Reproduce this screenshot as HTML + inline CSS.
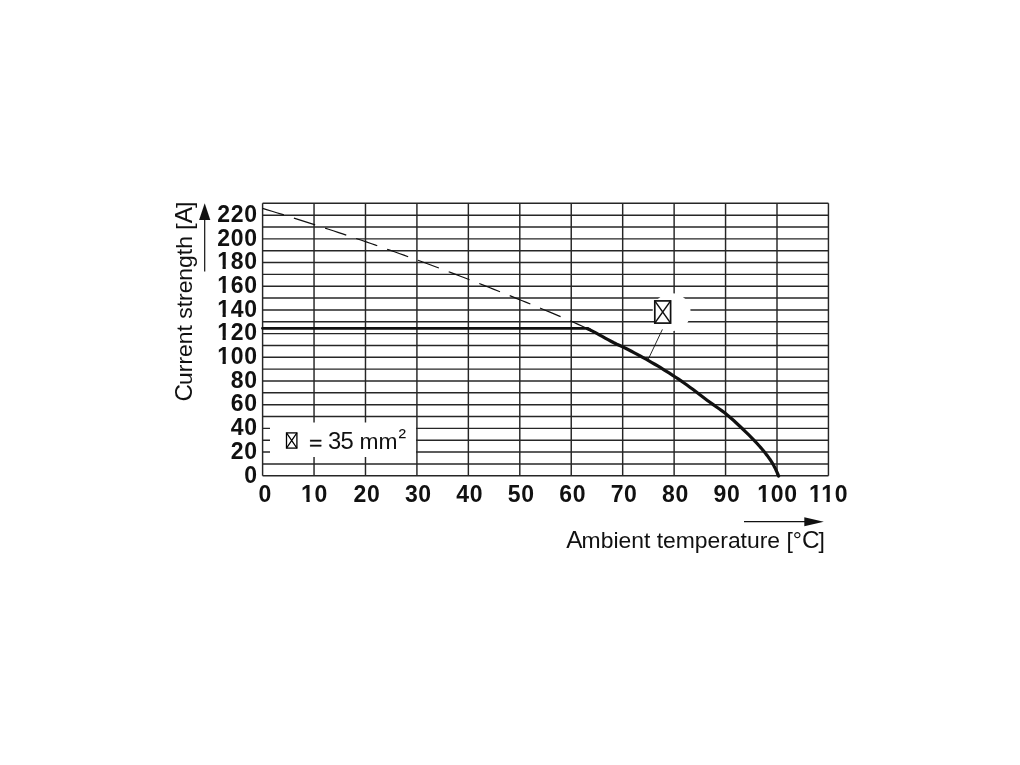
<!DOCTYPE html>
<html><head><meta charset="utf-8"><style>
html,body{margin:0;padding:0;background:#fff;}
body{width:1020px;height:765px;overflow:hidden;position:relative;}
svg{position:absolute;left:0;top:0;will-change:transform;}
text{font-family:"Liberation Sans",Arial,Helvetica,sans-serif;fill:#111;}
</style></head><body>
<svg width="1020" height="765" viewBox="0 0 1020 765">
<defs><mask id="m1" maskUnits="userSpaceOnUse" x="0" y="0" width="1020" height="765"><rect width="1020" height="765" fill="#fff"/><g fill="#000"><rect x="217.66" y="360.6" width="4.87" height="4.3"/><rect x="225.79" y="360.6" width="4.63" height="4.3"/><rect x="217.66" y="336.6" width="4.87" height="4.3"/><rect x="225.79" y="336.6" width="4.63" height="4.3"/><rect x="217.66" y="313.6" width="4.87" height="4.3"/><rect x="225.79" y="313.6" width="4.63" height="4.3"/><rect x="217.66" y="289.6" width="4.87" height="4.3"/><rect x="225.79" y="289.6" width="4.63" height="4.3"/><rect x="217.66" y="265.6" width="4.87" height="4.3"/><rect x="225.79" y="265.6" width="4.63" height="4.3"/><rect x="301.55" y="498.6" width="4.87" height="4.3"/><rect x="309.67" y="498.6" width="4.63" height="4.3"/><rect x="757.76" y="498.6" width="4.87" height="4.3"/><rect x="765.88" y="498.6" width="4.63" height="4.3"/><rect x="809.43" y="498.6" width="4.87" height="4.3"/><rect x="817.55" y="498.6" width="4.63" height="4.3"/><rect x="821.65" y="498.6" width="4.87" height="4.3"/><rect x="829.77" y="498.6" width="4.63" height="4.3"/></g></mask></defs>
<rect width="1020" height="765" fill="#fff"/>
<g stroke="#262626" stroke-width="1.45" fill="none">
<line x1="262.6" y1="203.31" x2="262.6" y2="475.75"/>
<line x1="314.04" y1="203.31" x2="314.04" y2="475.75"/>
<line x1="365.48" y1="203.31" x2="365.48" y2="475.75"/>
<line x1="416.92" y1="203.31" x2="416.92" y2="475.75"/>
<line x1="468.36" y1="203.31" x2="468.36" y2="475.75"/>
<line x1="519.8" y1="203.31" x2="519.8" y2="475.75"/>
<line x1="571.24" y1="203.31" x2="571.24" y2="475.75"/>
<line x1="622.68" y1="203.31" x2="622.68" y2="475.75"/>
<line x1="674.12" y1="203.31" x2="674.12" y2="475.75"/>
<line x1="725.56" y1="203.31" x2="725.56" y2="475.75"/>
<line x1="777" y1="203.31" x2="777" y2="475.75"/>
<line x1="828.44" y1="203.31" x2="828.44" y2="475.75"/>
<line x1="262.6" y1="475.75" x2="828.44" y2="475.75"/>
<line x1="262.6" y1="463.9" x2="828.44" y2="463.9"/>
<line x1="262.6" y1="452.06" x2="828.44" y2="452.06"/>
<line x1="262.6" y1="440.21" x2="828.44" y2="440.21"/>
<line x1="262.6" y1="428.37" x2="828.44" y2="428.37"/>
<line x1="262.6" y1="416.52" x2="828.44" y2="416.52"/>
<line x1="262.6" y1="404.68" x2="828.44" y2="404.68"/>
<line x1="262.6" y1="392.83" x2="828.44" y2="392.83"/>
<line x1="262.6" y1="380.99" x2="828.44" y2="380.99"/>
<line x1="262.6" y1="369.14" x2="828.44" y2="369.14"/>
<line x1="262.6" y1="357.3" x2="828.44" y2="357.3"/>
<line x1="262.6" y1="345.45" x2="828.44" y2="345.45"/>
<line x1="262.6" y1="333.61" x2="828.44" y2="333.61"/>
<line x1="262.6" y1="321.76" x2="828.44" y2="321.76"/>
<line x1="262.6" y1="309.92" x2="828.44" y2="309.92"/>
<line x1="262.6" y1="298.07" x2="828.44" y2="298.07"/>
<line x1="262.6" y1="286.23" x2="828.44" y2="286.23"/>
<line x1="262.6" y1="274.38" x2="828.44" y2="274.38"/>
<line x1="262.6" y1="262.54" x2="828.44" y2="262.54"/>
<line x1="262.6" y1="250.69" x2="828.44" y2="250.69"/>
<line x1="262.6" y1="238.85" x2="828.44" y2="238.85"/>
<line x1="262.6" y1="227" x2="828.44" y2="227"/>
<line x1="262.6" y1="215.16" x2="828.44" y2="215.16"/>
<line x1="262.6" y1="203.31" x2="828.44" y2="203.31"/>
</g>
<rect x="270" y="422.5" width="146" height="34.5" fill="#fff"/>
<circle cx="671.6" cy="312.3" r="19" fill="#fff"/>
<path d="M262.6,208.37 L267.31,209.81 L272.02,211.26 L276.73,212.71 L281.44,214.17 L286.15,215.64 L290.86,217.12 L295.57,218.61 L300.28,220.1 L304.99,221.61 L309.7,223.12 L314.41,224.64 L319.12,226.17 L323.83,227.7 L328.54,229.25 L333.25,230.8 L337.96,232.36 L342.67,233.93 L347.38,235.51 L352.09,237.1 L356.8,238.7 L361.51,240.3 L366.22,241.92 L370.93,243.54 L375.64,245.17 L380.35,246.81 L385.06,248.47 L389.77,250.13 L394.48,251.8 L399.19,253.47 L403.9,255.16 L408.61,256.86 L413.32,258.57 L418.03,260.29 L422.74,262.01 L427.46,263.75 L432.17,265.5 L436.88,267.26 L441.59,269.02 L446.3,270.8 L451.01,272.59 L455.72,274.38 L460.43,276.19 L465.14,278.01 L469.85,279.83 L474.56,281.67 L479.27,283.51 L483.98,285.37 L488.69,287.23 L493.4,289.1 L498.11,290.98 L502.82,292.87 L507.53,294.76 L512.24,296.66 L516.95,298.57 L521.66,300.49 L526.37,302.42 L531.08,304.35 L535.79,306.29 L540.5,308.23 L545.21,310.18 L549.92,312.15 L554.63,314.13 L559.34,316.12 L564.05,318.14 L568.76,320.19 L573.47,322.27 L578.18,324.38 L582.89,326.53 L587.6,328.75" fill="none" stroke="#111" stroke-width="1.2" stroke-dasharray="22.3 10.47"/>
<path d="M262.4,328.35 L587.6,328.35 L590.6,330.21" fill="none" stroke="#111" stroke-width="2.7" stroke-linejoin="round" stroke-linecap="round"/>
<path d="M587.6,328.75 L590.52,330.17 L593.44,331.65 L596.37,333.19 L599.29,334.79 L602.21,336.42 L605.13,338.07 L608.05,339.69 L610.98,341.27 L613.9,342.78 L616.82,344.19 L619.74,345.51 L622.66,346.87 L625.59,348.29 L628.51,349.76 L631.43,351.28 L634.35,352.82 L637.27,354.4 L640.2,355.98 L643.12,357.59 L646.04,359.22 L648.96,360.87 L651.88,362.55 L654.81,364.25 L657.73,365.97 L660.65,367.73 L663.57,369.52 L666.49,371.33 L669.42,373.18 L672.34,375.07 L675.26,376.99 L678.18,378.94 L681.11,380.94 L684.03,382.98 L686.95,385.05 L689.87,387.17 L692.79,389.34 L695.72,391.54 L698.64,393.77 L701.56,396 L704.48,398.22 L707.4,400.42 L710.33,402.57 L713.25,404.67 L716.17,406.72 L719.09,408.77 L722.01,410.87 L724.94,413.07 L727.86,415.42 L730.78,417.92 L733.7,420.52 L736.62,423.22 L739.55,425.98 L742.47,428.77 L745.39,431.58 L748.31,434.43 L751.23,437.35 L754.16,440.36 L757.08,443.48 L760,446.76 L760.5,447.33 L761.12,448.06 L761.75,448.79 L762.37,449.53 L763,450.29 L763.62,451.05 L764.24,451.82 L764.87,452.59 L765.49,453.38 L766.12,454.18 L766.74,454.99 L767.37,455.81 L767.99,456.64 L768.61,457.49 L769.24,458.37 L769.86,459.26 L770.49,460.18 L771.11,461.14 L771.73,462.12 L772.36,463.14 L772.98,464.2 L773.61,465.31 L774.23,466.46 L774.86,467.65 L775.48,468.9 L776.1,470.21 L776.73,471.57 L777.35,472.99 L777.98,474.48 L778.6,476.04" fill="none" stroke="#111" stroke-width="3.2" stroke-linejoin="round" stroke-linecap="round"/>
<g font-weight="bold" font-size="23" text-anchor="end" letter-spacing="0.7" mask="url(#m1)">
<text x="257.7" y="482.55">0</text>
<text x="257.7" y="458.86">20</text>
<text x="257.7" y="435.17">40</text>
<text x="257.7" y="411.48">60</text>
<text x="257.7" y="387.79">80</text>
<text x="257.7" y="364.1">100</text>
<text x="257.7" y="340.41">120</text>
<text x="257.7" y="316.72">140</text>
<text x="257.7" y="293.03">160</text>
<text x="257.7" y="269.34">180</text>
<text x="257.7" y="245.65">200</text>
<text x="257.7" y="221.96">220</text>
</g>
<g font-weight="bold" font-size="23" text-anchor="middle" letter-spacing="0.7" mask="url(#m1)">
<text x="265.35" y="502.2">0</text>
<text x="314.59" y="502.2">10</text>
<text x="366.93" y="502.2">20</text>
<text x="418.37" y="502.2">30</text>
<text x="469.81" y="502.2">40</text>
<text x="521.25" y="502.2">50</text>
<text x="572.69" y="502.2">60</text>
<text x="624.13" y="502.2">70</text>
<text x="675.57" y="502.2">80</text>
<text x="727.01" y="502.2">90</text>
<text x="777.55" y="502.2">100</text>
<text x="828.59" y="502.2">110</text>
</g>
<text x="566.3" y="548.4" font-size="22.9"><tspan font-size="24.3" letter-spacing="-0.93">A</tspan>mbient temperature [°<tspan font-size="24.3" letter-spacing="-1.01">C</tspan>]</text>
<line x1="744" y1="521.7" x2="806" y2="521.7" stroke="#111" stroke-width="1.25"/>
<path d="M823.8,521.7 L804.3,517.2 L804.3,526.2 Z" fill="#111"/>
<text transform="translate(192.1,401.5) rotate(-90)" font-size="22.9"><tspan font-size="24.3" letter-spacing="-1.01">C</tspan>urrent strength [<tspan font-size="24.3" letter-spacing="-0.93">A</tspan>]</text>
<line x1="204.7" y1="271.5" x2="204.7" y2="218" stroke="#111" stroke-width="1.2"/>
<path d="M204.7,203.2 L199.1,220 L210.3,220 Z" fill="#111"/>
<g stroke="#000" fill="none" stroke-width="1.3">
<rect x="286.5" y="432.9" width="10.4" height="15.2"/>
<path d="M286.5,432.9 L296.9,448.1 M296.9,432.9 L286.5,448.1" stroke-width="1.2"/>
</g>
<text transform="translate(309,448.9) scale(1,0.81)" font-size="22.8" stroke="#111" stroke-width="0.35">=</text>
<text x="327.9" y="448.9" font-size="22.8"><tspan font-size="23.8" letter-spacing="-0.56">35</tspan> mm<tspan dx="1.0" dy="-4.6">²</tspan></text>
<g stroke="#111" fill="none" stroke-width="1.7">
<rect x="654.8" y="300.9" width="15.8" height="22.2"/>
<path d="M654.8,300.9 L670.6,323.1 M670.6,300.9 L654.8,323.1" stroke-width="1.5"/>
</g>
<line x1="662.4" y1="329.4" x2="647.6" y2="360.6" stroke="#111" stroke-width="0.9"/>
</svg>
</body></html>
